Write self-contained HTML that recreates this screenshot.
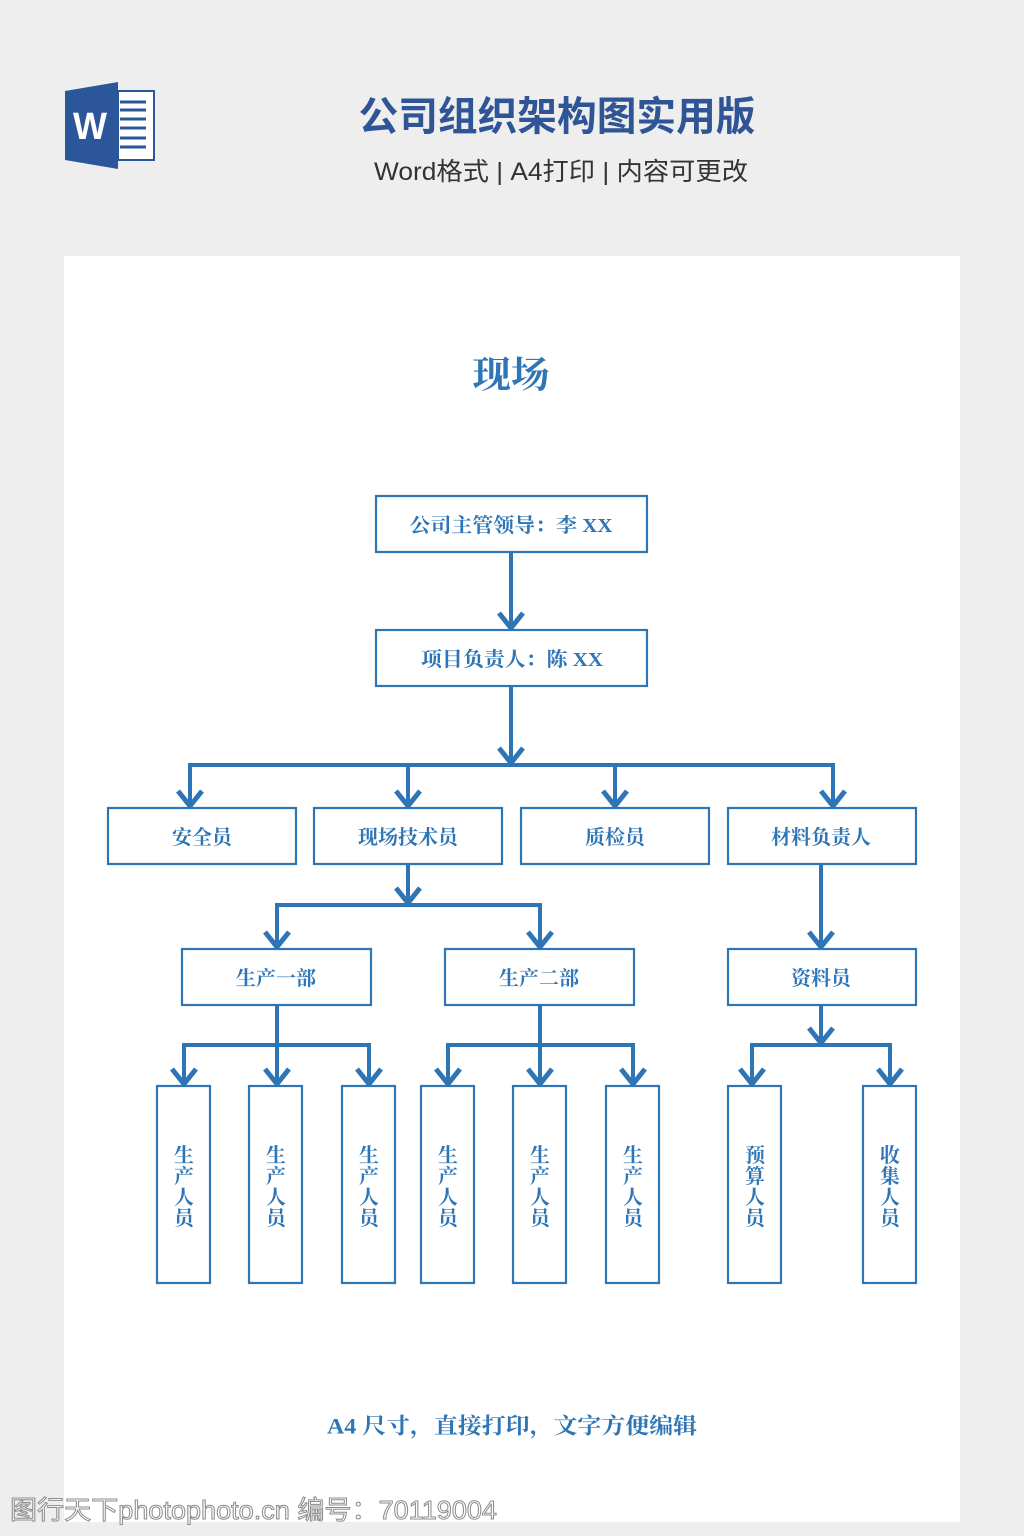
<!DOCTYPE html>
<html><head><meta charset="utf-8"><style>
html,body{margin:0;padding:0;background:#eeeeee;}
svg{display:block;}
.bx{fill:#fff;stroke:#2e75b6;stroke-width:2.2;}
.ln{fill:none;stroke:#2e75b6;stroke-width:4;stroke-linejoin:miter;}
.ar{fill:none;stroke:#2e75b6;stroke-width:5;stroke-linejoin:miter;stroke-linecap:butt;}
.t{font-family:"Liberation Serif","Noto Serif CJK SC",serif;font-weight:bold;font-size:20px;fill:#2e75b6;text-anchor:middle;dominant-baseline:central;}
.v{font-family:"Liberation Serif","Noto Serif CJK SC",serif;font-weight:bold;font-size:20px;fill:#2e75b6;text-anchor:middle;dominant-baseline:central;}
</style></head><body>
<svg width="1024" height="1536" viewBox="0 0 1024 1536" xmlns="http://www.w3.org/2000/svg">
<rect x="0" y="0" width="1024" height="1536" fill="#eeeeee"/>
<!-- word icon -->
<rect x="118" y="91" width="36" height="69" fill="#fff" stroke="#2b579a" stroke-width="2"/>
<g stroke="#2b579a" stroke-width="3">
<line x1="120" y1="102" x2="146" y2="102"/>
<line x1="120" y1="110" x2="146" y2="110"/>
<line x1="120" y1="119" x2="146" y2="119"/>
<line x1="120" y1="128" x2="146" y2="128"/>
<line x1="120" y1="138" x2="146" y2="138"/>
<line x1="120" y1="147" x2="146" y2="147"/>
</g>
<polygon points="65,91 118,82 118,169 65,160" fill="#2b579a"/>
<text x="90" y="127" font-family="Liberation Sans, sans-serif" font-weight="bold" font-size="38" fill="#fff" text-anchor="middle" dominant-baseline="central" textLength="34" lengthAdjust="spacingAndGlyphs">W</text>
<!-- header -->
<text x="557" y="117" font-family="Liberation Sans, Noto Sans CJK SC, sans-serif" font-weight="bold" font-size="40" fill="#2f5597" text-anchor="middle" dominant-baseline="central" textLength="397" lengthAdjust="spacingAndGlyphs">公司组织架构图实用版</text>
<text x="561" y="172" font-family="Liberation Sans, Noto Sans CJK SC, sans-serif" font-size="25" fill="#333" text-anchor="middle" dominant-baseline="central" textLength="374" lengthAdjust="spacingAndGlyphs">Word格式 | A4打印 | 内容可更改</text>
<!-- panel -->
<rect x="64" y="256" width="896" height="1266" fill="#fff"/>
<text x="511" y="376" font-family="Liberation Serif, Noto Serif CJK SC, serif" font-weight="bold" font-size="37" fill="#2e75b6" text-anchor="middle" dominant-baseline="central" textLength="77" lengthAdjust="spacingAndGlyphs">现场</text>

<!-- connectors -->
<path class="ln" d="M511 552 V628"/>
<polyline class="ar" points="499,613 511,628 523,613"/>
<path class="ln" d="M511 686 V762"/>
<polyline class="ar" points="499,748 511,763 523,748"/>
<path class="ln" d="M190 806 V765 H833 V806"/>
<path class="ln" d="M408 765 V806 M615 765 V806"/>
<polyline class="ar" points="178,791 190,806 202,791"/>
<polyline class="ar" points="396,791 408,806 420,791"/>
<polyline class="ar" points="603,791 615,806 627,791"/>
<polyline class="ar" points="821,791 833,806 845,791"/>

<path class="ln" d="M408 864 V902"/>
<polyline class="ar" points="396,888 408,903 420,888"/>
<path class="ln" d="M277 947 V905 H540 V947"/>
<polyline class="ar" points="265,932 277,947 289,932"/>
<polyline class="ar" points="528,932 540,947 552,932"/>

<path class="ln" d="M821 864 V947"/>
<polyline class="ar" points="809,932 821,947 833,932"/>

<path class="ln" d="M277 1005 V1084"/>
<path class="ln" d="M184 1084 V1045 H369 V1084"/>
<polyline class="ar" points="172,1069 184,1084 196,1069"/>
<polyline class="ar" points="265,1069 277,1084 289,1069"/>
<polyline class="ar" points="357,1069 369,1084 381,1069"/>

<path class="ln" d="M540 1005 V1084"/>
<path class="ln" d="M448 1084 V1045 H633 V1084"/>
<polyline class="ar" points="436,1069 448,1084 460,1069"/>
<polyline class="ar" points="528,1069 540,1084 552,1069"/>
<polyline class="ar" points="621,1069 633,1084 645,1069"/>

<path class="ln" d="M821 1005 V1042"/>
<polyline class="ar" points="809,1028 821,1043 833,1028"/>
<path class="ln" d="M752 1084 V1045 H890 V1084"/>
<polyline class="ar" points="740,1069 752,1084 764,1069"/>
<polyline class="ar" points="878,1069 890,1084 902,1069"/>

<!-- boxes -->
<rect class="bx" x="376" y="496" width="271" height="56"/>
<text class="t" x="511" y="526" textLength="203" lengthAdjust="spacingAndGlyphs">公司主管领导：李 XX</text>
<rect class="bx" x="376" y="630" width="271" height="56"/>
<text class="t" x="512" y="660" textLength="182" lengthAdjust="spacingAndGlyphs">项目负责人：陈 XX</text>

<rect class="bx" x="108" y="808" width="188" height="56"/>
<text class="t" x="202" y="838">安全员</text>
<rect class="bx" x="314" y="808" width="188" height="56"/>
<text class="t" x="408" y="838">现场技术员</text>
<rect class="bx" x="521" y="808" width="188" height="56"/>
<text class="t" x="615" y="838">质检员</text>
<rect class="bx" x="728" y="808" width="188" height="56"/>
<text class="t" x="821" y="838">材料负责人</text>

<rect class="bx" x="182" y="949" width="189" height="56"/>
<text class="t" x="276" y="979">生产一部</text>
<rect class="bx" x="445" y="949" width="189" height="56"/>
<text class="t" x="539" y="979">生产二部</text>
<rect class="bx" x="728" y="949" width="188" height="56"/>
<text class="t" x="821" y="979">资料员</text>

<g>
<rect class="bx" x="157" y="1086" width="53" height="197"/>
<rect class="bx" x="249" y="1086" width="53" height="197"/>
<rect class="bx" x="342" y="1086" width="53" height="197"/>
<rect class="bx" x="421" y="1086" width="53" height="197"/>
<rect class="bx" x="513" y="1086" width="53" height="197"/>
<rect class="bx" x="606" y="1086" width="53" height="197"/>
<rect class="bx" x="728" y="1086" width="53" height="197"/>
<rect class="bx" x="863" y="1086" width="53" height="197"/>
</g>
<g class="v">
<text class="v" x="184" y="1156">生</text><text class="v" x="184" y="1177">产</text><text class="v" x="184" y="1198">人</text><text class="v" x="184" y="1219">员</text>
<text class="v" x="276" y="1156">生</text><text class="v" x="276" y="1177">产</text><text class="v" x="276" y="1198">人</text><text class="v" x="276" y="1219">员</text>
<text class="v" x="369" y="1156">生</text><text class="v" x="369" y="1177">产</text><text class="v" x="369" y="1198">人</text><text class="v" x="369" y="1219">员</text>
<text class="v" x="448" y="1156">生</text><text class="v" x="448" y="1177">产</text><text class="v" x="448" y="1198">人</text><text class="v" x="448" y="1219">员</text>
<text class="v" x="540" y="1156">生</text><text class="v" x="540" y="1177">产</text><text class="v" x="540" y="1198">人</text><text class="v" x="540" y="1219">员</text>
<text class="v" x="633" y="1156">生</text><text class="v" x="633" y="1177">产</text><text class="v" x="633" y="1198">人</text><text class="v" x="633" y="1219">员</text>
<text class="v" x="755" y="1156">预</text><text class="v" x="755" y="1177">算</text><text class="v" x="755" y="1198">人</text><text class="v" x="755" y="1219">员</text>
<text class="v" x="890" y="1156">收</text><text class="v" x="890" y="1177">集</text><text class="v" x="890" y="1198">人</text><text class="v" x="890" y="1219">员</text>
</g>

<!-- footer -->
<text x="512" y="1426" font-family="Liberation Serif, Noto Serif CJK SC, serif" font-weight="bold" font-size="22" fill="#2e75b6" text-anchor="middle" dominant-baseline="central" textLength="370" lengthAdjust="spacingAndGlyphs">A4 尺寸，直接打印，文字方便编辑</text>

<!-- watermark -->
<text x="10" y="1510" font-family="Liberation Sans, Noto Sans CJK SC, sans-serif" font-size="26" fill="#ffffff" stroke="#8c8c8c" stroke-width="1" dominant-baseline="central" textLength="487" lengthAdjust="spacingAndGlyphs">图行天下photophoto.cn 编号：70119004</text>
</svg>
</body></html>
